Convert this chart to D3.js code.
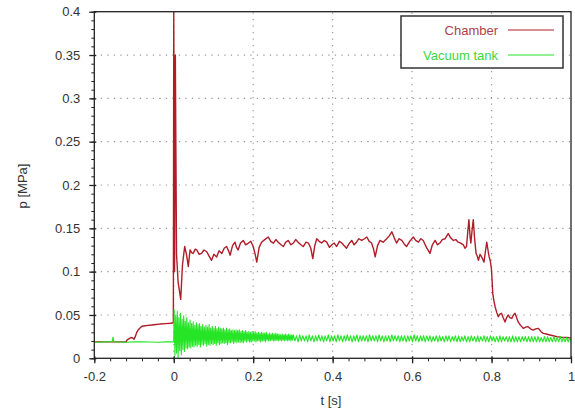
<!DOCTYPE html>
<html>
<head>
<meta charset="utf-8">
<script src="https://cdn.jsdelivr.net/npm/d3@7/dist/d3.min.js"></script>
<style>
  html, body { margin: 0; padding: 0; background: #fff; }
  svg { display: block; font-family: "Liberation Sans", Arial, sans-serif; }
</style>
</head>
<body>
<svg id="chart" width="575" height="411"></svg>
<script>
// ---------- data ----------
const xTicks = [-0.2, 0, 0.2, 0.4, 0.6, 0.8, 1];
const xTickLabels = ["-0.2", "0", "0.2", "0.4", "0.6", "0.8", "1"];
const yTicks = [0, 0.05, 0.1, 0.15, 0.2, 0.25, 0.3, 0.35, 0.4];
const yTickLabels = ["0", "0.05", "0.1", "0.15", "0.2", "0.25", "0.3", "0.35", "0.4"];
const seriesNames = ["Chamber", "Vacuum tank"];

// Chamber pressure [t (s), p (MPa)]
const chamber = [
  [-0.2,0.019],[-0.12,0.019],[-0.118,0.021],[-0.113,0.0225],[-0.108,0.024],[-0.103,0.0235],[-0.1,0.022],[-0.097,0.025],
  [-0.093,0.03],[-0.089,0.033],[-0.085,0.035],[-0.08,0.037],[-0.072,0.0375],[-0.065,0.038],[-0.055,0.0385],
  [-0.045,0.039],[-0.035,0.0395],[-0.02,0.04],[-0.008,0.0405],[-0.001,0.041],
  [0,0.4],[0.002,0.10],[0.004,0.35],[0.007,0.12],[0.011,0.088],[0.0175,0.068],[0.022,0.108],[0.0275,0.129],
  [0.032,0.12],[0.0366,0.106],[0.041,0.125],[0.045,0.122],[0.049,0.121],[0.054,0.126],[0.058,0.125],[0.064,0.12],
  [0.07,0.121],[0.076,0.125],[0.083,0.123],[0.089,0.118],[0.095,0.113],[0.101,0.12],[0.108,0.117],[0.114,0.124],
  [0.121,0.121],[0.127,0.127],[0.133,0.129],[0.138,0.124],[0.142,0.119],[0.148,0.13],[0.154,0.134],[0.158,0.128],
  [0.162,0.125],[0.168,0.133],[0.175,0.136],[0.181,0.131],[0.188,0.133],[0.194,0.135],[0.2,0.129],[0.205,0.12],
  [0.209,0.111],[0.215,0.128],[0.221,0.134],[0.229,0.137],[0.238,0.14],[0.244,0.135],[0.251,0.133],[0.257,0.137],
  [0.263,0.134],[0.27,0.131],[0.276,0.129],[0.282,0.134],[0.288,0.136],[0.295,0.131],[0.301,0.133],[0.307,0.137],
  [0.313,0.134],[0.32,0.131],[0.326,0.129],[0.333,0.134],[0.339,0.133],[0.345,0.127],[0.35,0.115],[0.355,0.13],
  [0.36,0.138],[0.366,0.135],[0.372,0.133],[0.379,0.136],[0.385,0.134],[0.392,0.128],[0.398,0.131],[0.404,0.133],
  [0.41,0.129],[0.417,0.135],[0.423,0.133],[0.429,0.13],[0.435,0.127],[0.441,0.132],[0.448,0.136],[0.454,0.131],
  [0.46,0.134],[0.466,0.138],[0.473,0.136],[0.48,0.138],[0.486,0.14],[0.492,0.135],[0.498,0.133],[0.503,0.126],
  [0.507,0.117],[0.513,0.13],[0.519,0.136],[0.527,0.134],[0.536,0.138],[0.542,0.141],[0.549,0.146],[0.555,0.139],
  [0.561,0.133],[0.567,0.138],[0.574,0.136],[0.58,0.132],[0.586,0.129],[0.594,0.135],[0.603,0.14],[0.609,0.136],
  [0.616,0.134],[0.622,0.138],[0.628,0.136],[0.636,0.128],[0.645,0.121],[0.651,0.131],[0.658,0.136],[0.664,0.131],
  [0.67,0.133],[0.676,0.137],[0.683,0.138],[0.687,0.141],[0.691,0.144],[0.697,0.139],[0.704,0.136],[0.71,0.137],
  [0.716,0.134],[0.722,0.133],[0.729,0.131],[0.733,0.127],[0.737,0.129],[0.74,0.145],[0.743,0.16],[0.746,0.14],
  [0.748,0.133],[0.751,0.148],[0.754,0.16],[0.757,0.14],[0.761,0.121],[0.764,0.118],[0.767,0.113],[0.771,0.12],
  [0.775,0.117],[0.778,0.114],[0.781,0.111],[0.785,0.125],[0.788,0.134],[0.791,0.125],[0.794,0.117],[0.797,0.112],
  [0.8,0.102],[0.803,0.075],[0.806,0.066],[0.809,0.0595],[0.813,0.053],[0.817,0.048],[0.821,0.051],[0.825,0.052],
  [0.829,0.047],[0.834,0.042],[0.838,0.047],[0.842,0.05],[0.846,0.047],[0.851,0.046],[0.855,0.05],[0.859,0.052],
  [0.863,0.047],[0.867,0.042],[0.873,0.038],[0.88,0.0346],[0.886,0.036],[0.892,0.0365],[0.898,0.034],[0.905,0.0326],
  [0.911,0.034],[0.918,0.0346],[0.924,0.031],[0.93,0.0288],[0.938,0.028],[0.947,0.0269],[0.955,0.026],[0.964,0.025],
  [0.976,0.0243],[0.989,0.024],[1.0,0.0234]
];

// Vacuum tank, before ignition [t (s), p (MPa)]
const vacuumBefore = [
  [-0.2,0.019],[-0.19,0.0185],[-0.175,0.019],[-0.16,0.0192],[-0.155,0.0195],[-0.153,0.0245],[-0.151,0.019],
  [-0.14,0.0188],[-0.12,0.0185],[-0.1,0.019],[-0.08,0.019],[-0.06,0.0188],[-0.04,0.0185],[-0.02,0.019],[0,0.019]
];
// Vacuum tank after ignition, sampled every 2 ms starting at t = 0.001 s
const vacuumEarlyStart = 0.001, vacuumEarlyStep = 0.002;
const vacuumEarly = [
  0.056,0.003,0.050,0.006,0.054,0.001,0.047,0.009,0.052,0.004,
  0.045,0.010,0.049,0.008,0.043,0.012,0.047,0.011,0.041,0.013,
  0.044,0.012,0.040,0.014,0.042,0.013,0.038,0.015,0.041,0.014,
  0.039,0.016,0.040,0.013,0.037,0.016,0.039,0.015,0.036,0.017,
  0.038,0.014,0.036,0.016,0.039,0.015,0.035,0.017,0.037,0.016,
  0.035,0.017,0.037,0.015,0.034,0.018,0.036,0.016,0.035,0.017,
  0.034,0.018,0.035,0.017,0.033,0.018,0.035,0.016,0.033,0.018,
  0.034,0.018,0.032,0.019,0.033,0.017,0.032,0.019,0.033,0.018,
  0.032,0.019,0.033,0.018,0.031,0.019,0.032,0.018,0.031,0.020,
  0.032,0.019,0.030,0.020,0.031,0.019,0.030,0.019,0.031,0.020,
  0.030,0.020,0.031,0.019,0.029,0.020,0.030,0.020,0.029,0.019,
  0.030,0.020,0.029,0.020,0.029,0.019,0.030,0.021,0.028,0.020,
  0.029,0.020,0.028,0.021,0.029,0.020,0.028,0.020,0.029,0.021,
  0.028,0.020,0.028,0.021,0.027,0.020,0.028,0.021,0.027,0.020,
  0.028,0.021,0.027,0.020,0.028,0.021,0.027,0.020,0.027,0.021
];
// Vacuum tank, later part, sampled every 4 ms starting at t = 0.301 s
const vacuumLateStart = 0.301, vacuumLateStep = 0.004;
const vacuumLate = [
  0.027,0.020,0.026,0.019,0.027,0.020,0.026,0.020,0.026,0.019,
  0.027,0.020,0.026,0.019,0.026,0.020,0.027,0.020,0.026,0.019,
  0.026,0.020,0.027,0.019,0.026,0.020,0.026,0.019,0.027,0.020,
  0.026,0.019,0.026,0.020,0.027,0.020,0.026,0.019,0.026,0.020,
  0.027,0.019,0.026,0.020,0.026,0.020,0.026,0.019,0.027,0.020,
  0.026,0.020,0.026,0.019,0.027,0.020,0.026,0.019,0.026,0.020,
  0.026,0.019,0.027,0.020,0.026,0.020,0.026,0.019,0.026,0.020,
  0.026,0.019,0.026,0.020,0.026,0.019,0.027,0.020,0.026,0.019,
  0.026,0.020,0.026,0.019,0.026,0.020,0.026,0.019,0.025,0.020,
  0.026,0.019,0.026,0.020,0.025,0.019,0.026,0.020,0.026,0.019,
  0.025,0.020,0.026,0.019,0.026,0.019,0.025,0.020,0.026,0.019,
  0.025,0.019,0.026,0.020,0.025,0.019,0.026,0.019,0.025,0.020,
  0.026,0.019,0.025,0.019,0.026,0.020,0.025,0.019,0.025,0.019,
  0.026,0.019,0.025,0.020,0.025,0.019,0.025,0.019,0.026,0.019,
  0.025,0.019,0.025,0.019,0.025,0.020,0.025,0.019,0.025,0.019,
  0.025,0.019,0.025,0.019,0.025,0.019,0.024,0.019,0.025,0.019,
  0.025,0.019,0.024,0.019,0.025,0.019,0.024,0.019,0.025,0.019,
  0.024,0.019,0.024,0.019,0.024,0.019
];

// ---------- chart ----------
const svg = d3.select("#chart");
const x = d3.scaleLinear().domain([-0.2, 1]).range([94.3, 571]);
const y = d3.scaleLinear().domain([0, 0.4]).range([358.3, 11.7]);
const [x0, x1] = x.range();
const [y0, y1] = y.range();

const vacuum = vacuumBefore
  .concat(vacuumEarly.map((p, i) => [vacuumEarlyStart + i * vacuumEarlyStep, p]))
  .concat(vacuumLate.map((p, i) => [vacuumLateStart + i * vacuumLateStep, p]));

svg.append("defs").append("clipPath").attr("id", "clip")
  .append("rect").attr("x", x0).attr("y", y1).attr("width", x1 - x0).attr("height", y0 - y1);

// grid
const grid = svg.append("g").attr("stroke", "#9a9a9a").attr("stroke-width", 1.2)
  .attr("stroke-dasharray", "1.3,5.2");
grid.selectAll("line.h").data(yTicks.filter(v => v > 0 && v < 0.4)).join("line")
  .attr("x1", x0).attr("x2", x1).attr("y1", d => y(d)).attr("y2", d => y(d));
grid.selectAll("line.v").data(xTicks.filter(v => v > -0.2 && v < 1)).join("line")
  .attr("class", "v").attr("y1", y0).attr("y2", y1).attr("x1", d => x(d)).attr("x2", d => x(d));

// lines
const line = d3.line().x(d => x(d[0])).y(d => y(d[1]));
const plot = svg.append("g").attr("clip-path", "url(#clip)");
plot.append("path").datum(chamber).attr("d", line)
  .attr("fill", "none").attr("stroke", "#b01c28").attr("stroke-width", 1.4).attr("stroke-linejoin", "round");
plot.append("path").datum(vacuum).attr("d", line)
  .attr("fill", "none").attr("stroke", "#26e426").attr("stroke-width", 1.1).attr("stroke-linejoin", "round");

// frame
svg.append("rect").attr("x", x0).attr("y", y1).attr("width", x1 - x0).attr("height", y0 - y1)
  .attr("fill", "none").attr("stroke", "#222").attr("stroke-width", 1.3);

// minor ticks
const xMinor = d3.range(-0.2, 1.0001, 0.04).map(v => +v.toFixed(3));
const yMinor = d3.range(0, 0.4001, 0.01).map(v => +v.toFixed(3));
svg.append("g").attr("transform", `translate(0,${y0})`)
  .call(d3.axisBottom(x).tickValues(xMinor).tickSize(3).tickFormat(""))
  .call(g => g.select(".domain").remove())
  .call(g => g.selectAll("line").attr("stroke", "#222"));
svg.append("g").attr("transform", `translate(${x0},0)`)
  .call(d3.axisLeft(y).tickValues(yMinor).tickSize(3).tickFormat(""))
  .call(g => g.select(".domain").remove())
  .call(g => g.selectAll("line").attr("stroke", "#222"));

// major ticks + labels
const xAxis = svg.append("g").attr("transform", `translate(0,${y0})`)
  .call(d3.axisBottom(x).tickValues(xTicks).tickSize(5).tickPadding(8)
    .tickFormat((d, i) => xTickLabels[i]));
xAxis.select(".domain").remove();
xAxis.selectAll("line").attr("stroke", "#222").attr("y1", -2).attr("stroke-width", 1.3);
xAxis.selectAll("text").attr("font-size", 13).attr("fill", "#333")
  .attr("font-family", "Liberation Sans, Arial, sans-serif");

const yAxis = svg.append("g").attr("transform", `translate(${x0},0)`)
  .call(d3.axisLeft(y).tickValues(yTicks).tickSize(5).tickPadding(9)
    .tickFormat((d, i) => yTickLabels[i]));
yAxis.select(".domain").remove();
yAxis.selectAll("line").attr("stroke", "#222").attr("x1", 2).attr("stroke-width", 1.3);
yAxis.selectAll("text").attr("font-size", 13).attr("fill", "#333")
  .attr("font-family", "Liberation Sans, Arial, sans-serif");

// axis titles
svg.append("text").attr("x", 331).attr("y", 405).attr("text-anchor", "middle")
  .attr("font-size", 13).attr("fill", "#333").text("t [s]");
svg.append("text").attr("transform", "translate(27,186) rotate(-90)").attr("text-anchor", "middle")
  .attr("font-size", 13).attr("fill", "#333").text("p [MPa]");

// legend
const legend = svg.append("g");
legend.append("rect").attr("x", 401).attr("y", 16).attr("width", 162).attr("height", 52)
  .attr("fill", "#fff").attr("stroke", "#333").attr("stroke-width", 1.5);
const legColors = ["#b01c28", "#26e426"];
const legText = ["#b04048", "#3cd83c"];
seriesNames.forEach((name, i) => {
  const yy = 30 + i * 25;
  legend.append("text").attr("x", 498).attr("y", yy + 4.5).attr("text-anchor", "end")
    .attr("font-size", 13).attr("fill", legText[i]).text(name);
  legend.append("line").attr("x1", 508).attr("x2", 554).attr("y1", yy).attr("y2", yy)
    .attr("stroke", legColors[i]).attr("stroke-width", 1.2);
});
</script>
</body>
</html>
